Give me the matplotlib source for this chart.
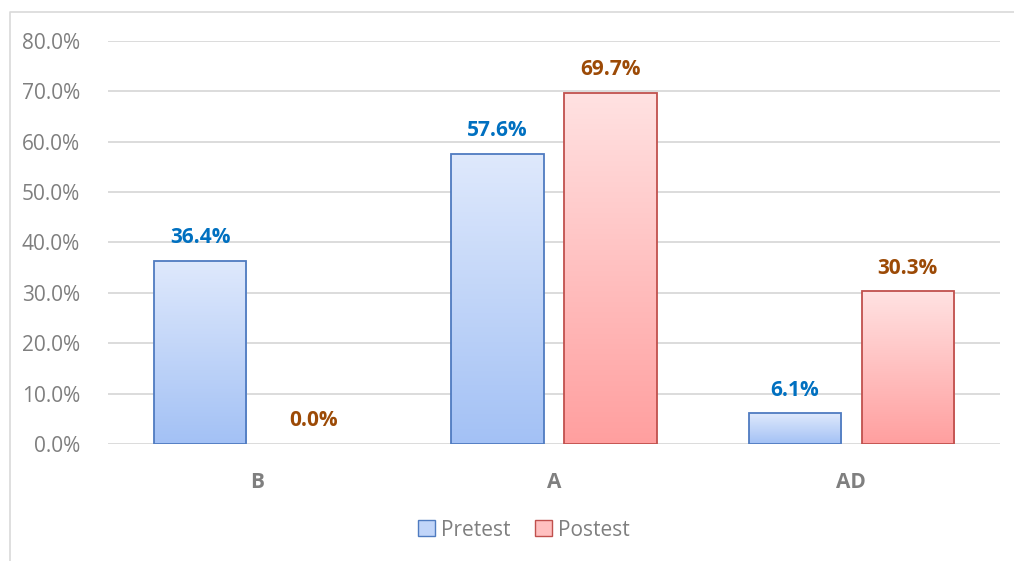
import matplotlib.pyplot as plt
import matplotlib.colors as mcolors
from matplotlib.lines import Line2D
from matplotlib.patches import Patch
import numpy as np

plt.rcParams['font.family'] = ['Open Sans', 'DejaVu Sans']

categories = ["B", "A", "AD"]
pretest = [36.4, 57.6, 6.1]
postest = [0.0, 69.7, 30.3]

series = [
    ("Pretest", pretest, "#dfe9fc", "#a3c1f5", "#4f7bc0", "#0070c0", -0.19),
    ("Postest", postest, "#ffe2e2", "#ff9f9f", "#c0504d", "#9c4a06", 0.19),
]

fig = plt.figure(figsize=(10.14, 5.61), dpi=100)
# outer chart frame: only top and left edges are visible in the crop
fig.lines.append(Line2D([10 / 1014, 10 / 1014, 1.0], [0.0, 1 - 12 / 561, 1 - 12 / 561],
                        transform=fig.transFigure, color="#d9d9d9", linewidth=1.2))
ax = fig.add_axes([108 / 1014, 117 / 561, 892 / 1014, 403 / 561])

x = np.arange(len(categories))
width = 0.31
grad = np.linspace(0, 1, 256).reshape(-1, 1)

handles = []
for name, vals, top_c, bot_c, edge, lab_c, off in series:
    cmap = mcolors.LinearSegmentedColormap.from_list(name, [bot_c, top_c])
    bars = ax.bar(x + off, vals, width, facecolor="none", edgecolor=edge, linewidth=1.3, zorder=3)
    for b, v in zip(bars, vals):
        if v > 0:
            x0 = b.get_x()
            im = ax.imshow(grad, cmap=cmap, aspect="auto", origin="lower",
                           extent=[x0, x0 + width, 0, v], zorder=2)
            im.set_clip_path(b)
        else:
            b.set_linewidth(0)
        ax.annotate(f"{v:.1f}%", (b.get_x() + width / 2, v), xytext=(0, 9),
                    textcoords="offset points", ha="center", va="bottom",
                    fontsize=15, fontweight="bold", color=lab_c)
    handles.append(Patch(facecolor=mcolors.to_hex(np.mean([mcolors.to_rgb(top_c), mcolors.to_rgb(bot_c)], axis=0)),
                         edgecolor=edge, label=name))

ax.set_xlim(-0.5, 2.5)
ax.set_ylim(0, 80)
ax.set_yticks(np.arange(0, 81, 10))
ax.set_yticklabels([f"{t:.1f}%" for t in np.arange(0, 81, 10)])
ax.set_xticks(x)
ax.set_xticklabels(categories, fontweight="bold")
ax.tick_params(axis="both", length=0, colors="#7f7f7f", labelsize=15)
ax.tick_params(axis="x", pad=20)
ax.tick_params(axis="y", pad=20)
ax.grid(axis="y", color="#d9d9d9", linewidth=1.3, zorder=0)
ax.set_axisbelow(True)
for s in ax.spines.values():
    s.set_visible(False)

fig.legend(handles=handles, loc="center", bbox_to_anchor=(524 / 1014, 1 - 530 / 561), ncol=2,
           frameon=False, fontsize=15, labelcolor="#7f7f7f", handlelength=0.8, handleheight=0.8,
           handletextpad=0.3, columnspacing=1.2)

fig.savefig("out.png", dpi=100)
